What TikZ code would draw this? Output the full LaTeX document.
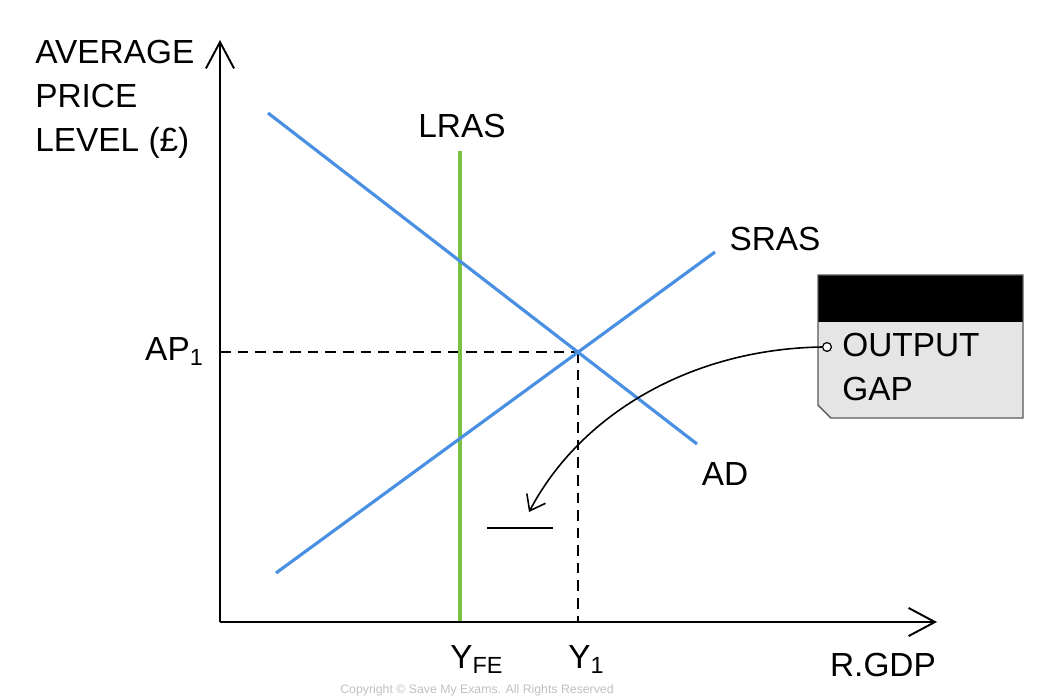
\documentclass[tikz,border=0pt]{standalone}
\usepackage{fontspec}
\setmainfont{Liberation Sans}
\usetikzlibrary{arrows.meta}
\definecolor{curveblue}{RGB}{74,144,226}
\definecolor{lrasgreen}{RGB}{124,194,66}
\definecolor{boxgray}{RGB}{229,229,229}
\begin{document}
\begin{tikzpicture}[x=0.02cm, y=-0.02cm,
  lbl/.style={font=\fontsize{19}{25}\selectfont, inner sep=0pt},
  axis/.style={line width=1.1pt, -{Straight Barb[length=15pt, width=16pt, line width=1.1pt]}},
  curve/.style={line width=1.8pt, draw=curveblue},
  guide/.style={line width=1.1pt, dash pattern=on 6pt off 4pt}]
\useasboundingbox (0,0) rectangle (1046,698);
\coordinate (O) at (220,622);
\coordinate (ytop) at (220,40);
\coordinate (xend) at (937,622);
\coordinate (ad1) at (268,113);
\coordinate (ad2) at (697,444);
\coordinate (sr1) at (276,573);
\coordinate (sr2) at (715,252);
\coordinate (lr1) at (460,151);
\coordinate (lr2) at (460,622);
\coordinate (E) at (578,352);
\coordinate (ap) at (220,352);
\coordinate (y1) at (578,622);
\coordinate (tip) at (529,512);
\coordinate (bar1) at (487,528);
\coordinate (bar2) at (553,528);
\node[lbl, anchor=north west, align=left] (ylabel) at (35,40) {AVERAGE\\PRICE\\LEVEL (£)};
\node[lbl, anchor=base] (lras) at (462,137) {LRAS};
\node[lbl, anchor=base] (sras) at (775,250) {SRAS};
\node[lbl, anchor=base] (ad) at (725,485) {AD};
\node[lbl, anchor=base east] (ap1) at (204,360) {AP\textsubscript{1}};
\node[lbl, anchor=base west] (yfe) at (450,668) {Y\textsubscript{FE}};
\node[lbl, anchor=base west] (yone) at (568,668) {Y\textsubscript{1}};
\node[lbl, anchor=base] (rgdp) at (883,676) {R.GDP};
\node[font=\fontsize{7}{8}\selectfont, text=black!25, anchor=south west, inner sep=0pt] (copy) at (340,696) {Copyright © Save My Exams. All Rights Reserved};
\path [guide] (ap) edge (E);
\path [guide] (E) edge (y1);
\path [line width=1.8pt, draw=lrasgreen] (lr1) edge (lr2);
\path [curve] (ad1) edge (ad2);
\path [curve] (sr1) edge (sr2);
\path [axis] (O) edge (ytop);
\path [axis] (O) edge (xend);
\path [line width=1.1pt, draw=black] (bar1) edge (bar2);
\fill[boxgray] (818,275) -- (1023,275) -- (1023,418) -- (831,418) -- (818,405) -- cycle;
\fill[black] (818,275) rectangle (1023,322);
\draw[black!65, line width=0.8pt] (818,275) -- (1023,275) -- (1023,418) -- (831,418) -- (818,405) -- cycle;
\node[lbl, anchor=north west, align=left] (gap) at (842,333) {OUTPUT\\GAP};
\node[circle, draw, line width=0.7pt, fill=white, inner sep=0pt, minimum size=5pt] (gapdot) at (827,347) {};
\draw[line width=0.9pt, -{Straight Barb[length=8pt, width=12pt, line width=0.9pt]}] (gapdot.west) .. controls (690,349) and (580,415) .. (tip);
\end{tikzpicture}
\end{document}
